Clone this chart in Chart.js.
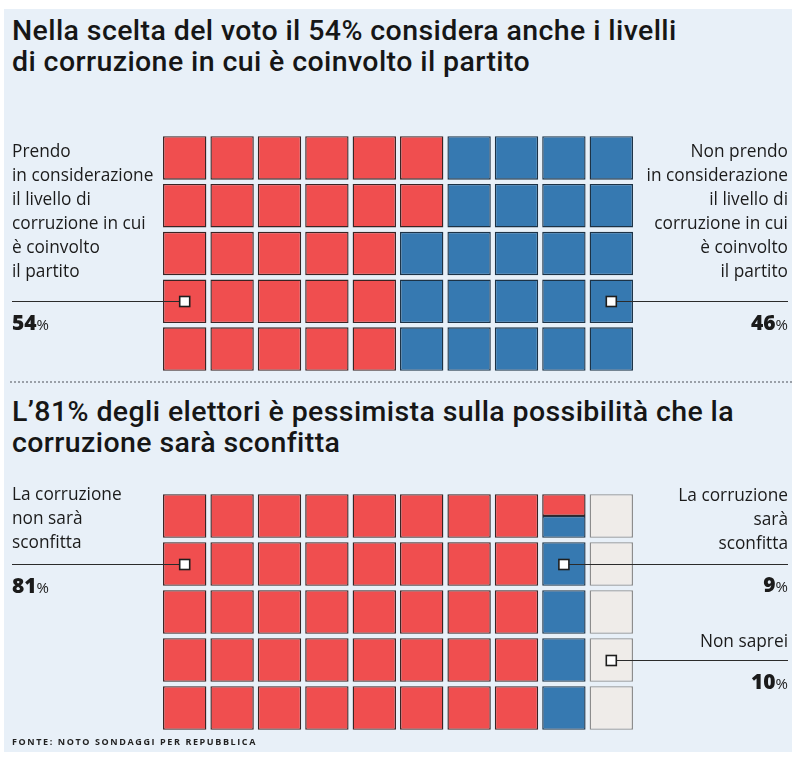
<!DOCTYPE html>
<html>
<head>
<meta charset="utf-8">
<script src="https://cdn.jsdelivr.net/npm/chart.js@4.4.0/dist/chart.umd.min.js"></script>
<style>
  html, body { margin: 0; padding: 0; background: #ffffff; }
  #page { position: relative; width: 800px; height: 758px; overflow: hidden; background: #ffffff; color: #1b1b1b; }
  #panel { position: absolute; left: 4px; top: 9px; width: 788px; height: 743px; background: #e8f0f8; }
  .title { position: absolute; left: 12px; font-family: Roboto, "Open Sans", sans-serif; font-weight: 500; font-size: 28.5px; letter-spacing: 0.4px; line-height: 31px; white-space: nowrap; color: #161616; }
  .lbl { position: absolute; font-family: "Open Sans", sans-serif; font-size: 17.3px; line-height: 24px; white-space: nowrap; color: #1b1b1b; }
  .lbl.r { text-align: right; right: 12px; }
  .lbl.l { left: 12px; }
  .pct b { font-size: 21px; font-weight: 800; }
  .pct span { font-size: 15px; }
  #sep { position: absolute; left: 10px; top: 381px; width: 782px; border-top: 2px dotted #9aa0a8; }
  #src { position: absolute; left: 12px; top: 735px; font-family: "Open Sans", sans-serif; font-weight: 700; font-size: 9px; letter-spacing: 1.6px; color: #222; white-space: nowrap; }
  canvas { position: absolute; left: 0; }
</style>
</head>
<body>
<div id="page">
  <div id="panel"></div>
  <div class="title" style="top:15px">Nella scelta del voto il 54% considera anche i livelli<br>di corruzione in cui è coinvolto il partito</div>
  <div id="sep"></div>
  <div class="title" style="top:396px">L’81% degli elettori è pessimista sulla possibilità che la<br>corruzione sarà sconfitta</div>

  <canvas id="c1" width="800" height="380" style="top:0px"></canvas>
  <canvas id="c2" width="800" height="378" style="top:380px"></canvas>

  <div class="lbl l" style="top:139px">Prendo<br>in considerazione<br>il livello di<br>corruzione in cui<br>è coinvolto<br>il partito</div>
  <div class="lbl l pct" style="top:310px"><b>54</b><span>%</span></div>
  <div class="lbl r" style="top:139px">Non prendo<br>in considerazione<br>il livello di<br>corruzione in cui<br>è coinvolto<br>il partito</div>
  <div class="lbl r pct" style="top:310px"><b>46</b><span>%</span></div>

  <div class="lbl l" style="top:482px">La corruzione<br>non sarà<br>sconfitta</div>
  <div class="lbl l pct" style="top:573px"><b>81</b><span>%</span></div>
  <div class="lbl r" style="top:483px">La corruzione<br>sarà<br>sconfitta</div>
  <div class="lbl r pct" style="top:572px"><b>9</b><span>%</span></div>
  <div class="lbl r" style="top:629px">Non saprei</div>
  <div class="lbl r pct" style="top:669px"><b>10</b><span>%</span></div>

  <div id="src">FONTE: NOTO SONDAGGI PER REPUBBLICA</div>
</div>
<script>
// ---- Data ----
const COLS = 10;
const ROWS = 5;
const columnLabels = ['1','2','3','4','5','6','7','8','9','10'];

const chart1Categories = ['Prendo in considerazione il livello di corruzione', 'Non prendo in considerazione il livello di corruzione'];
const chart1Values = [54, 46];

const chart2Categories = ['La corruzione non sarà sconfitta', 'La corruzione sarà sconfitta', 'Non saprei'];
const chart2Values = [81, 9, 10];

// ---- Styles ----
const chart1Fill = ['#f04e4f', '#3679b1'];
const chart1Border = ['#3a2424', '#1c3246'];
const chart2Fill = ['#f04e4f', '#3679b1', '#efece9'];
const chart2Border = ['#3a2424', '#1c3246', '#8c8c8c'];
const GAP = 0.045;
// leader markers: [series index, column, row, side]
const chart1Markers = [[0, 0, 3, 'left'], [1, 9, 3, 'right']];
const chart2Markers = [[0, 0, 1, 'left'], [1, 8, 1, 'right'], [2, 9, 3, 'right']];

function buildDatasets(categories, values, fills, borders) {
  const perCell = 100 / (COLS * ROWS);
  let cum = 0;
  const datasets = [];
  values.forEach((v, s) => {
    const start = cum / perCell, end = (cum + v) / perCell;
    cum += v;
    const rows = Array.from({length: ROWS}, () => Array(COLS).fill(null));
    for (let k = Math.floor(start + 1e-9); k < Math.ceil(end - 1e-9); k++) {
      const col = Math.floor(k / ROWS), row = k % ROWS;
      const a = Math.max(start, k) - k, b = Math.min(end, k + 1) - k;
      const y0 = row + (a < 1e-9 ? GAP : a);
      const y1 = row + (b > 1 - 1e-9 ? 1 - GAP : b);
      rows[row][col] = [y0, y1];
    }
    rows.forEach((data, r) => {
      datasets.push({
        label: categories[s],
        data: data,
        backgroundColor: fills[s],
        borderColor: borders[s],
        borderWidth: 1.4,
        borderSkipped: false,
        grouped: false,
        barPercentage: 1,
        categoryPercentage: 0.915
      });
    });
  });
  return datasets;
}

const leaderPlugin = {
  id: 'leaders',
  afterDatasetsDraw(chart, args, opts) {
    const ctx = chart.ctx;
    const xs = chart.scales.x, ys = chart.scales.y;
    ctx.save();
    opts.markers.forEach(([s, col, row, side]) => {
      const px = xs.getPixelForValue(col);
      const py = Math.round(ys.getPixelForValue(row + 0.5)) + 0.5;
      const endX = side === 'left' ? 12 : 788;
      ctx.strokeStyle = '#2b2b2b';
      ctx.lineWidth = 1.2;
      ctx.beginPath();
      ctx.moveTo(endX, py);
      ctx.lineTo(px, py);
      ctx.stroke();
      ctx.fillStyle = '#ffffff';
      ctx.lineWidth = 1.6;
      ctx.strokeStyle = '#1e1e1e';
      ctx.fillRect(px - 5, py - 5, 10, 10);
      ctx.strokeRect(px - 5, py - 5, 10, 10);
    });
    ctx.restore();
  }
};

function makeChart(id, categories, values, fills, borders, markers, padding) {
  return new Chart(document.getElementById(id), {
    type: 'bar',
    data: { labels: columnLabels, datasets: buildDatasets(categories, values, fills, borders) },
    options: {
      responsive: false,
      animation: false,
      layout: { padding: padding },
      plugins: { legend: { display: false }, tooltip: { enabled: false }, leaders: { markers: markers } },
      scales: {
        x: { type: 'category', display: false, offset: true },
        y: { type: 'linear', display: false, min: 0, max: ROWS, reverse: true }
      }
    },
    plugins: [leaderPlugin]
  });
}

makeChart('c1', chart1Categories, chart1Values, chart1Fill, chart1Border, chart1Markers, {left: 161, right: 165, top: 134, bottom: 7});
makeChart('c2', chart2Categories, chart2Values, chart2Fill, chart2Border, chart2Markers, {left: 161, right: 165, top: 112, bottom: 26});
</script>
</body>
</html>
